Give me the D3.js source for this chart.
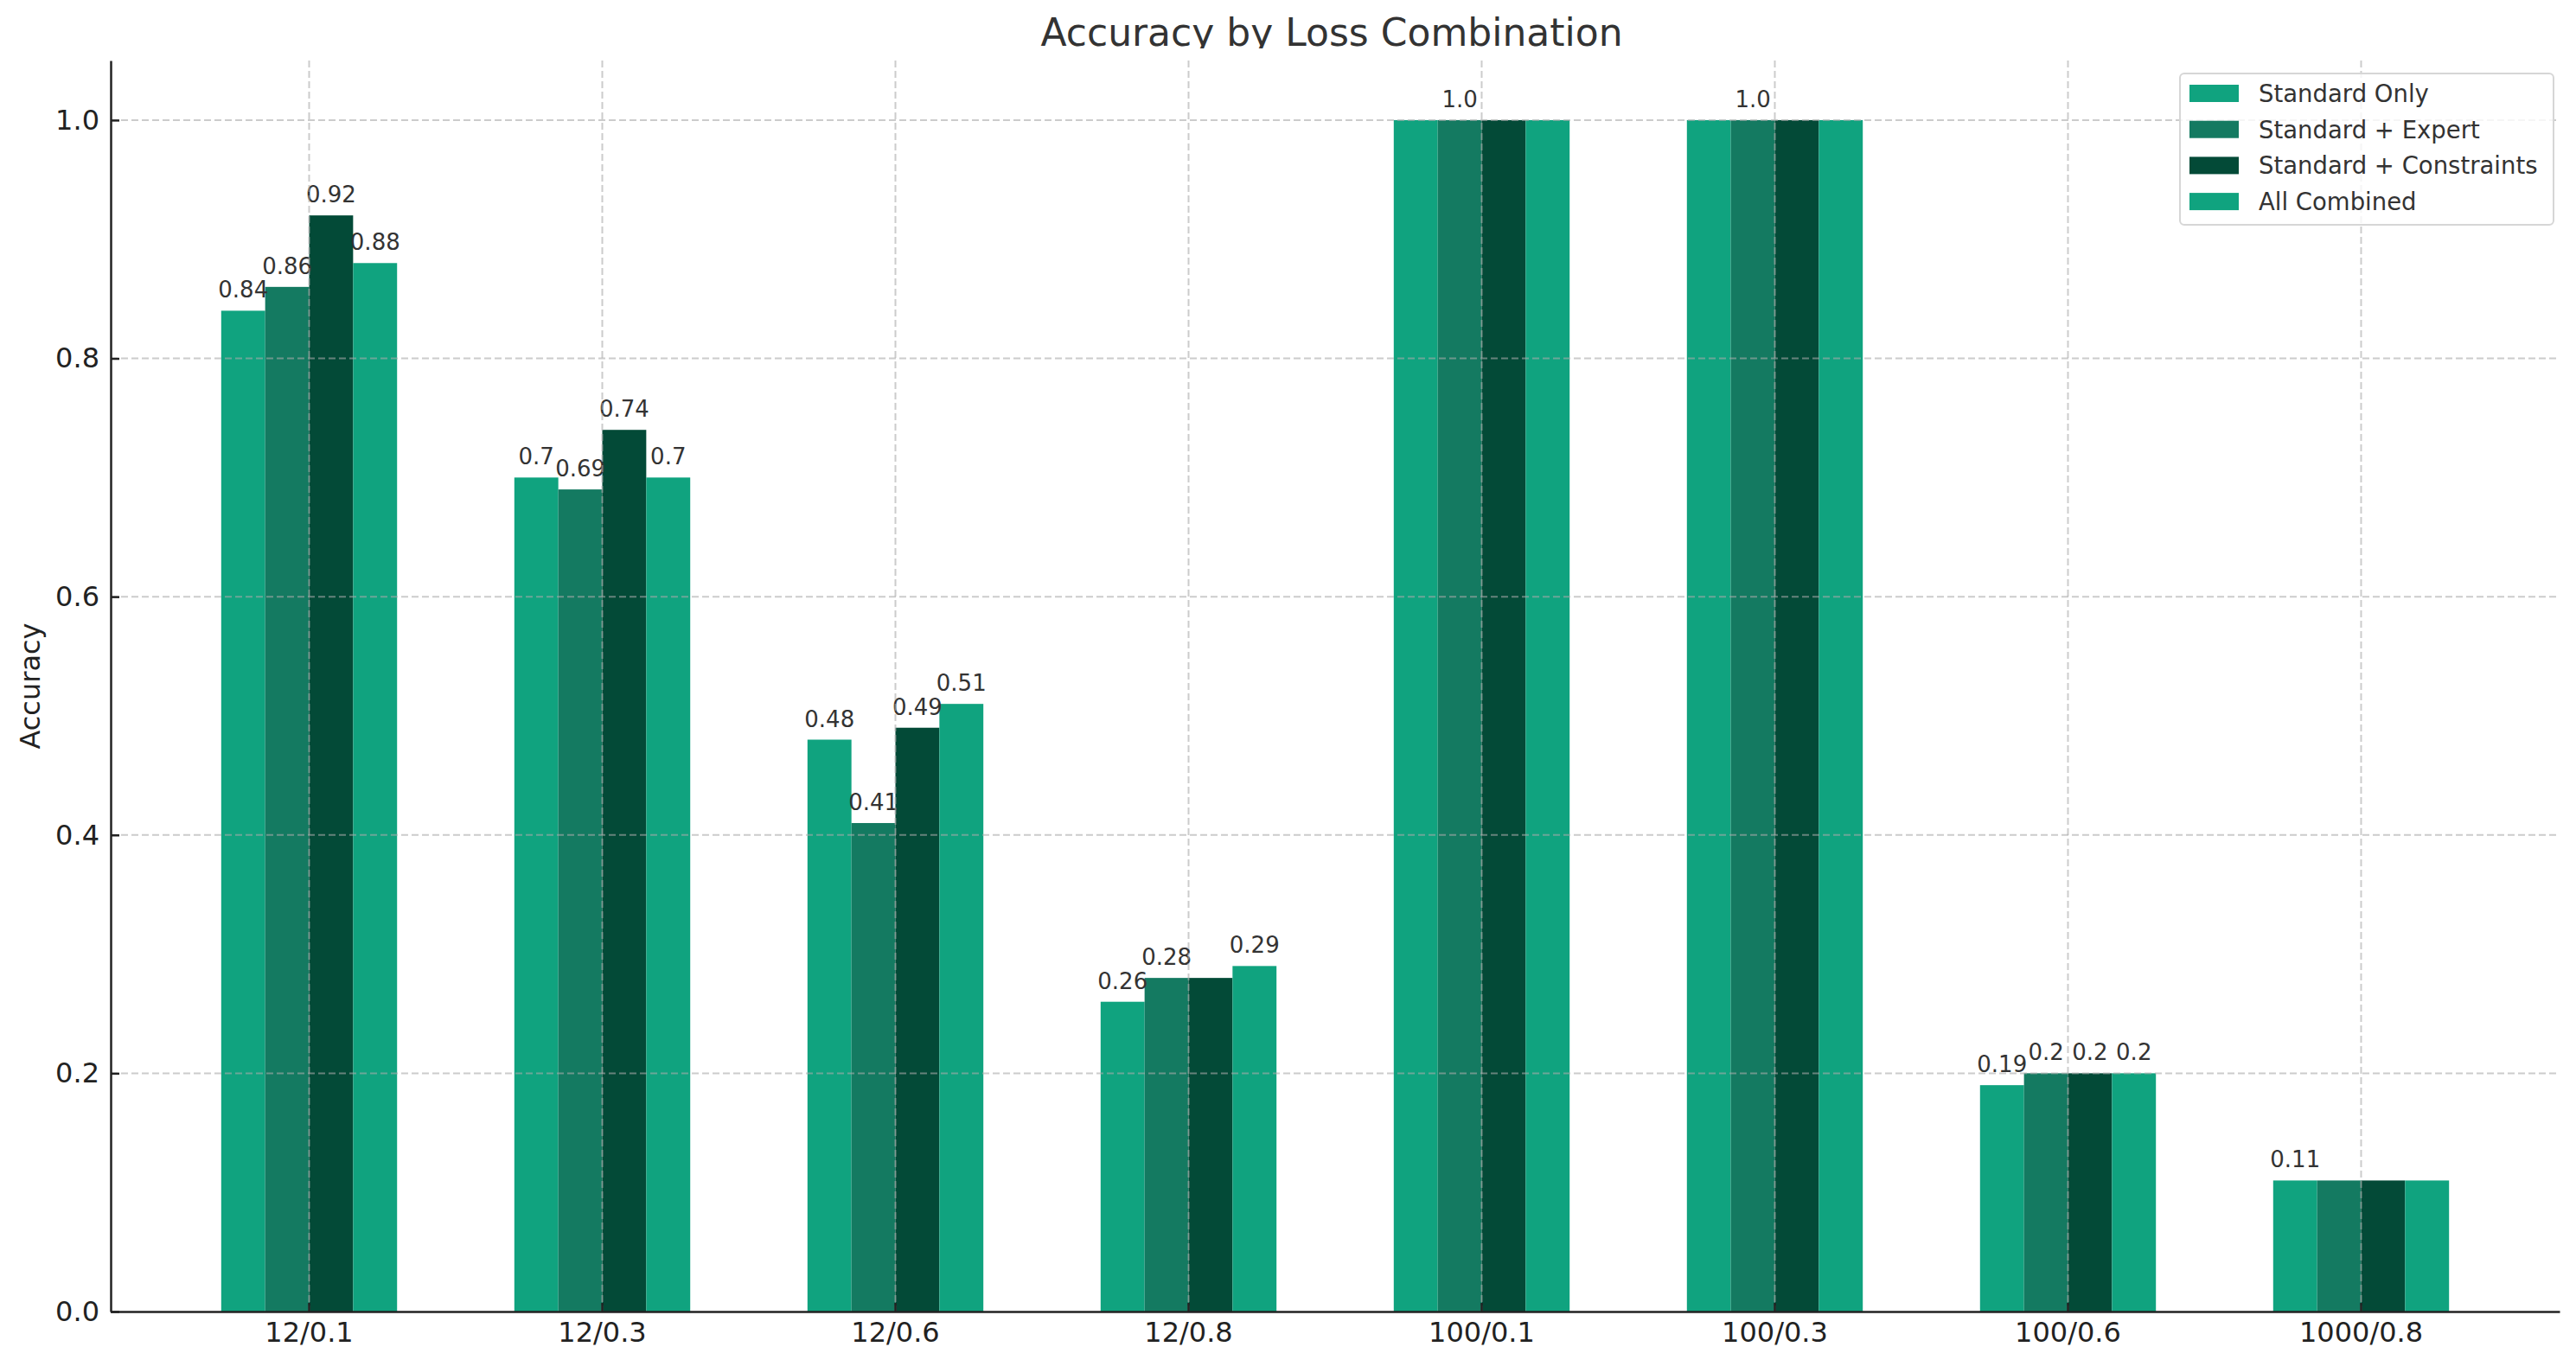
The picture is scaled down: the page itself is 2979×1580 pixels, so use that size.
<!DOCTYPE html>
<html lang="en">
<head>
    <meta charset="UTF-8">
    <title>Accuracy by Loss Combination</title>
    <script src="https://d3js.org/d3.v7.min.js"></script>
    <style>
        body { margin: 0; background: #fff; }
        text { font-family: "DejaVu Sans", sans-serif; }
    </style>
</head>
<body>
    <div id="chart"></div>

    <script>
        // Data
        var categories = ["12/0.1", "12/0.3", "12/0.6", "12/0.8", "100/0.1", "100/0.3", "100/0.6", "1000/0.8"];
        var seriesNames = ["Standard Only", "Standard + Expert", "Standard + Constraints", "All Combined"];
        var standardOnly = [0.84, 0.70, 0.48, 0.26, 1.0, 1.0, 0.19, 0.11];
        var standardExpert = [0.86, 0.69, 0.41, 0.28, 1.0, 1.0, 0.20, 0.11];
        var standardConstraints = [0.92, 0.74, 0.49, 0.28, 1.0, 1.0, 0.20, 0.11];
        var allCombined = [0.88, 0.70, 0.51, 0.29, 1.0, 1.0, 0.20, 0.11];
        var seriesColors = ["#10a37f", "#147a61", "#034a37", "#10a37f"];
        var yTicks = [0.0, 0.2, 0.4, 0.6, 0.8, 1.0];
        // value labels that are not visible in the picture: [category, series]
        var hiddenLabels = [[3, 2], [4, 0], [4, 2], [4, 3], [5, 0], [5, 2], [5, 3], [7, 1], [7, 2], [7, 3]];

        var seriesValues = [standardOnly, standardExpert, standardConstraints, allCombined];

        var width = 2979, height = 1580;
        var margin = { top: 70, right: 19, bottom: 63, left: 128 };
        var innerW = width - margin.left - margin.right;
        var innerH = height - margin.top - margin.bottom;

        var svg = d3.select("#chart").append("svg")
            .attr("width", width)
            .attr("height", height);

        var g = svg.append("g")
            .attr("transform", "translate(" + margin.left + "," + margin.top + ")");

        var x0 = d3.scaleBand()
            .domain(categories)
            .range([0, innerW])
            .paddingInner(0.4)
            .paddingOuter(0.377);

        var x1 = d3.scaleBand()
            .domain(d3.range(seriesNames.length))
            .range([0, x0.bandwidth()]);

        var y = d3.scaleLinear()
            .domain([0, 1.05])
            .range([innerH, 0]);

        // bars
        var groups = g.selectAll("g.group")
            .data(categories)
            .enter().append("g")
            .attr("class", "group")
            .attr("transform", function(d) { return "translate(" + x0(d) + ",0)"; });

        groups.selectAll("rect")
            .data(function(d, i) {
                return seriesValues.map(function(vals, s) { return { s: s, c: i, v: vals[i] }; });
            })
            .enter().append("rect")
            .attr("x", function(d) { return x1(d.s); })
            .attr("width", x1.bandwidth())
            .attr("y", function(d) { return y(d.v); })
            .attr("height", function(d) { return innerH - y(d.v); })
            .attr("fill", function(d) { return seriesColors[d.s]; });

        // grid on top of the bars
        var grid = g.append("g")
            .attr("stroke", "#aaa")
            .attr("stroke-opacity", 0.6)
            .attr("stroke-width", 2)
            .attr("stroke-dasharray", "8,4");

        grid.selectAll("line.h")
            .data(yTicks.slice(1))
            .enter().append("line")
            .attr("x1", 0).attr("x2", innerW)
            .attr("y1", function(d) { return y(d); })
            .attr("y2", function(d) { return y(d); });

        grid.selectAll("line.v")
            .data(categories)
            .enter().append("line")
            .attr("x1", function(d) { return x0(d) + x0.bandwidth() / 2; })
            .attr("x2", function(d) { return x0(d) + x0.bandwidth() / 2; })
            .attr("y1", 0).attr("y2", innerH);

        // value labels, python-style (1.0, 0.7, 0.84)
        function isHidden(c, s) {
            return hiddenLabels.some(function(p) { return p[0] === c && p[1] === s; });
        }
        function fmt(v) {
            return Number.isInteger(v) ? v.toFixed(1) : String(v);
        }

        groups.selectAll("text.val")
            .data(function(d, i) {
                return seriesValues.map(function(vals, s) { return { s: s, c: i, v: vals[i] }; })
                    .filter(function(d) { return !isHidden(d.c, d.s); });
            })
            .enter().append("text")
            .attr("class", "val")
            .attr("x", function(d) { return x1(d.s) + x1.bandwidth() / 2; })
            .attr("y", function(d) { return y(d.v) - 15; })
            .attr("text-anchor", "middle")
            .attr("font-size", 26)
            .attr("fill", "#333")
            .text(function(d) { return fmt(d.v); });

        // axes
        var yAxis = g.append("g")
            .call(d3.axisLeft(y).tickValues(yTicks).tickFormat(d3.format(".1f"))
                .tickSizeInner(-10).tickSizeOuter(0).tickPadding(13));

        var xAxis = g.append("g")
            .attr("transform", "translate(0," + innerH + ")")
            .call(d3.axisBottom(x0).tickSizeInner(-10).tickSizeOuter(0).tickPadding(12));

        [xAxis, yAxis].forEach(function(ax) {
            ax.select(".domain").attr("stroke", "#222").attr("stroke-width", 2.5);
            ax.selectAll(".tick line").attr("stroke", "#222").attr("stroke-width", 2.5);
            ax.selectAll(".tick text").attr("font-size", 32).attr("fill", "#222")
                .attr("font-family", "DejaVu Sans, sans-serif");
        });

        // axis label
        svg.append("text")
            .attr("transform", "translate(46," + (margin.top + innerH / 2) + ") rotate(-90)")
            .attr("text-anchor", "middle")
            .attr("font-size", 32)
            .attr("fill", "#222")
            .text("Accuracy");

        // title (bottom is cut off in the picture)
        svg.append("clipPath").attr("id", "titleClip")
            .append("rect").attr("x", 0).attr("y", 0).attr("width", width).attr("height", 56);

        svg.append("text")
            .attr("clip-path", "url(#titleClip)")
            .attr("x", margin.left + innerW / 2 - 4)
            .attr("y", 53)
            .attr("text-anchor", "middle")
            .attr("font-size", 44)
            .attr("fill", "#333")
            .text("Accuracy by Loss Combination");

        // legend
        var legend = svg.append("g")
            .attr("transform", "translate(2521,85)");

        legend.append("rect")
            .attr("width", 432)
            .attr("height", 175)
            .attr("rx", 5)
            .attr("fill", "#fff")
            .attr("fill-opacity", 0.8)
            .attr("stroke", "#d6d6d6")
            .attr("stroke-width", 2);

        var items = legend.selectAll("g.item")
            .data(seriesNames)
            .enter().append("g")
            .attr("class", "item")
            .attr("transform", function(d, i) { return "translate(0," + (23 + i * 41.7) + ")"; });

        items.append("rect")
            .attr("x", 11).attr("y", -10)
            .attr("width", 57).attr("height", 20)
            .attr("fill", function(d, i) { return seriesColors[i]; });

        items.append("text")
            .attr("x", 91)
            .attr("y", 10)
            .attr("font-size", 27.5)
            .attr("fill", "#333")
            .text(function(d) { return d; });
    </script>
</body>
</html>
